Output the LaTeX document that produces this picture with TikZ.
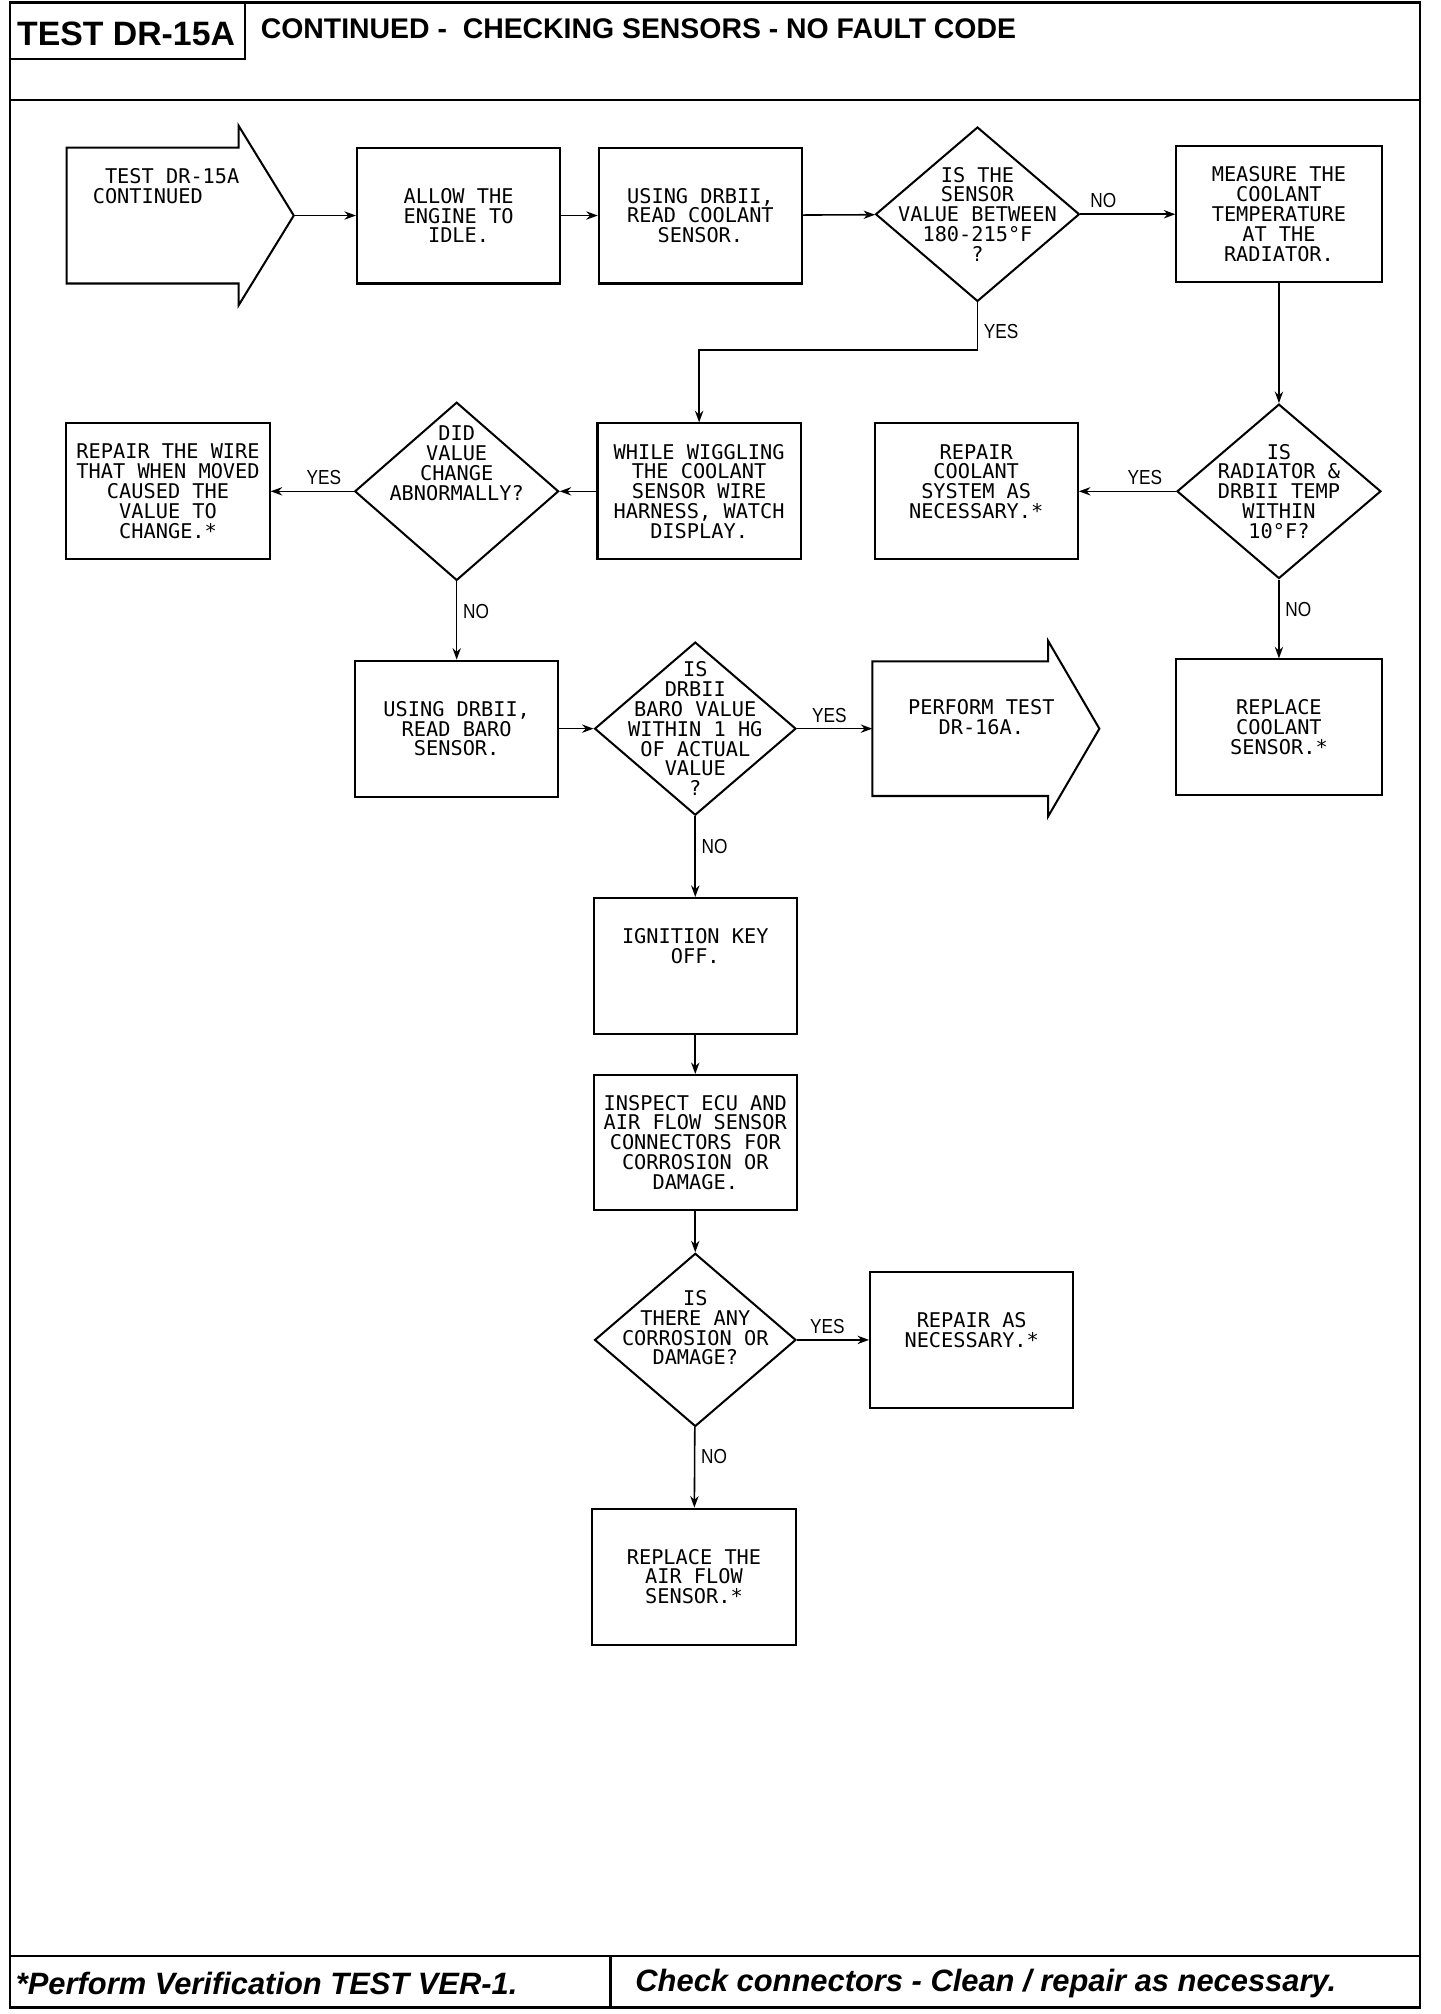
\documentclass[tikz,border=0pt]{standalone}
\usepackage{fontspec}
\setmainfont{Liberation Sans}
\newfontfamily\plotfont{DejaVu Sans Mono}
\newfontfamily\labelfont[FakeStretch=0.85]{Liberation Sans}
\usetikzlibrary{shapes.geometric}
\usetikzlibrary{arrows.meta}
\newcommand{\fatarrow}[6]% left x, neck x, tip x, mid y, half shaft, half head
{(#1,#4-#5) -- (#2,#4-#5) -- (#2,#4-#6) -- (#3,#4) -- (#2,#4+#6) -- (#2,#4+#5) -- (#1,#4+#5) -- cycle
}
\tikzset{
  plain/.style={inner sep=0pt, align=center, font=\plotfont\fontsize{9}{8.8}\selectfont},
  box/.style={plain, draw, line width=0.9pt, minimum width=3.17cm, minimum height=2.12cm},
  decision/.style={diamond, draw, line width=0.9pt, inner sep=0pt, minimum width=3.18cm, minimum height=2.72cm},
  qtext/.style={plain},
  flow/.style={line width=0.7pt, -{Stealth[length=1.8mm,width=1.3mm]}},
  yn/.style={font=\labelfont\fontsize{9}{10}\selectfont, inner sep=2.5pt}
}

\begin{document}
\begin{tikzpicture}[x=0.02cm, y=-0.02cm]
	\useasboundingbox (0,0) rectangle (1123,1570);
	% frame, header and footer
	\draw[line width=1pt] (8,2) rectangle (1107,1565);
	\draw[line width=1pt] (8,78) -- (1107,78);
	\draw[line width=1pt] (8,46) -- (191,46) -- (191,2);
	\draw[line width=1pt] (8,1525) -- (1107,1525);
	\draw[line width=1pt] (476,1525) -- (476,1565);
	\node[anchor=west, inner sep=0pt, font=\bfseries\fontsize{15}{18}\selectfont] (testid) at (13,26) {TEST DR-15A};
	\node[anchor=west, inner sep=0pt, font=\bfseries\fontsize{12.6}{15}\selectfont] (title) at (203,22) {CONTINUED -\ \ CHECKING SENSORS - NO FAULT CODE};
	\node[anchor=west, inner sep=0pt, font=\bfseries\itshape\fontsize{13.7}{16}\selectfont] (verify) at (12,1546) {*Perform Verification TEST VER-1.};
	\node[anchor=west, inner sep=0pt, font=\bfseries\itshape\fontsize{13.7}{16}\selectfont] (clean) at (495,1546) {Check connectors - Clean / repair as necessary.};
	% row 1
	\draw[line width=0.9pt] \fatarrow{52}{186}{229}{168}{53}{70};
	\coordinate (starttip) at (229,168);
	\node[plain, align=left, anchor=west] (starttxt) at (72,145) {\ TEST DR-15A\\CONTINUED};
	\node[box] (allow) at (357.5,168) {ALLOW THE\\ENGINE TO\\IDLE.};
	\node[box] (coolread) at (546,168) {USING DRBII,\\READ COOLANT\\SENSOR.};
	\node[decision, label={[qtext]center:{IS THE\\SENSOR\\VALUE BETWEEN\\180-215°F\\?}}] (qtemp) at (762,167) {};
	\node[box, minimum width=3.2cm] (measure) at (997,167) {MEASURE THE\\COOLANT\\TEMPERATURE\\AT THE\\RADIATOR.};
	% row 2
	\node[box] (repwire) at (131,383) {REPAIR THE WIRE\\THAT WHEN MOVED\\CAUSED THE\\VALUE TO\\CHANGE.*};
	\node[decision, minimum height=2.78cm, label={[qtext,yshift=0.44cm]center:{DID\\VALUE\\CHANGE\\ABNORMALLY?}}] (qwig) at (356,383) {};
	\node[box] (wiggle) at (545,383) {WHILE WIGGLING\\THE COOLANT\\SENSOR WIRE\\HARNESS, WATCH\\DISPLAY.};
	\node[box] (repcool) at (761,383) {REPAIR\\COOLANT\\SYSTEM AS\\NECESSARY.*\\\mbox{}};
	\node[decision, label={[qtext]center:{IS\\RADIATOR \&\\DRBII TEMP\\WITHIN\\10°F?}}] (qrad) at (997,383) {};
	% row 3
	\node[box] (usebaro) at (356,568) {USING DRBII,\\READ BARO\\SENSOR.};
	\node[decision, minimum width=3.14cm, minimum height=2.7cm, label={[qtext]center:{IS\\DRBII\\BARO VALUE\\WITHIN 1 HG\\OF ACTUAL\\VALUE\\?}}] (qbaro) at (542,568) {};
	\draw[line width=0.9pt] \fatarrow{680}{817}{857}{568}{52.5}{68.5};
	\coordinate (perftail) at (680,568);
	\node[plain] (perftxt) at (765,559) {PERFORM TEST\\DR-16A.};
	\node[box, minimum width=3.2cm] (repsens) at (997,567) {REPLACE\\COOLANT\\SENSOR.*};
	% lower column
	\node[box] (ignition) at (542,753) {IGNITION KEY\\OFF.\\\mbox{}\\\mbox{}};
	\node[box, minimum height=2.1cm] (inspect) at (542,890.5) {INSPECT ECU AND\\AIR FLOW SENSOR\\CONNECTORS FOR\\CORROSION OR\\DAMAGE.};
	\node[decision, minimum width=3.14cm, minimum height=2.7cm, label={[qtext,yshift=0.19cm]center:{IS\\THERE ANY\\CORROSION OR\\DAMAGE?}}] (qcorr) at (542,1044.5) {};
	\node[box] (repnec) at (757.5,1044.5) {REPAIR AS\\NECESSARY.*\\\mbox{}};
	\node[box] (repflow) at (541,1229) {REPLACE THE\\AIR FLOW\\SENSOR.*};
	% connectors
	\draw[flow] (starttip) -- (allow);
	\draw[flow] (allow) -- (coolread);
	\draw[flow] (coolread) -- (qtemp);
	\draw[flow] (qtemp) -- node[yn, above, pos=0.24]{NO} (measure);
	\draw[flow] (qtemp.south) -- node[yn, right, pos=0.62]{YES} ++(0,37) -| (wiggle.north);
	\draw[flow] (measure) -- (qrad);
	\draw[flow] (wiggle) -- (qwig);
	\draw[flow] (qwig) -- node[yn, above, pos=0.36]{YES} (repwire);
	\draw[flow] (qwig) -- node[yn, right, pos=0.38]{NO} (usebaro);
	\draw[flow] (qrad) -- node[yn, above, pos=0.32]{YES} (repcool);
	\draw[flow] (qrad) -- node[yn, right, pos=0.38]{NO} (repsens);
	\draw[flow] (usebaro) -- (qbaro);
	\draw[flow] (qbaro) -- node[yn, above, pos=0.43]{YES} (perftail);
	\draw[flow] (qbaro) -- node[yn, right, pos=0.38]{NO} (ignition);
	\draw[flow] (ignition) -- (inspect);
	\draw[flow] (inspect) -- (qcorr);
	\draw[flow] (qcorr) -- node[yn, above, pos=0.42]{YES} (repnec);
	\draw[flow] (qcorr) -- node[yn, right, pos=0.36]{NO} (repflow);
\end{tikzpicture}
\end{document}
